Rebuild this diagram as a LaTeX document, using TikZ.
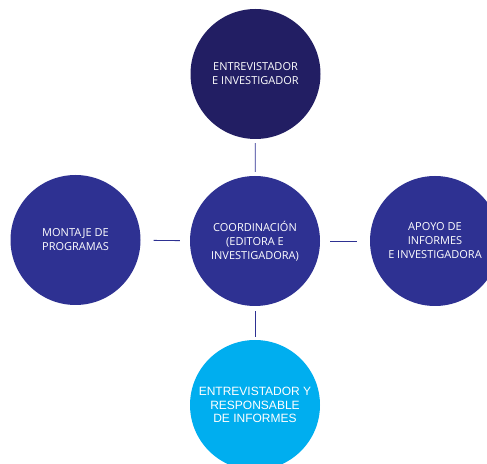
\documentclass[tikz,border=0pt]{standalone}
\usepackage{fontspec}
\setmainfont{Open Sans}
\newfontfamily\arialf{Liberation Sans}
\definecolor{navy}{HTML}{221E63}
\definecolor{blu}{HTML}{2E3192}
\definecolor{cya}{HTML}{00AEEF}
\begin{document}
\begin{tikzpicture}[x=1pt,y=1pt,
  bub/.style={circle,minimum size=130pt,inner sep=0pt,text=white,align=center,
    font=\fontsize{11}{14}\selectfont},
  conn/.style={draw=blu,line width=0.9pt}]
\clip (0,0) rectangle (487,463);
\fill[white] (0,0) rectangle (487,463);
\node[bub,fill=navy] (top) at (255.5,389) {ENTREVISTADOR\\E INVESTIGADOR};
\node[bub,fill=blu] (cen) at (255,222) {COORDINACIÓN\\(EDITORA E\\INVESTIGADORA)};
\node[bub,fill=blu] (lft) at (75.5,223) {MONTAJE DE\\PROGRAMAS};
\node[bub,fill=blu] (rgt) at (435,222) {APOYO DE\\INFORMES\\E INVESTIGADORA};
\node[bub,fill=cya,font=\arialf\fontsize{12}{13.3}\selectfont] (bot) at (255,58) {ENTREVISTADOR Y\\RESPONSABLE\\DE INFORMES};
\draw[conn,shorten <=4pt,shorten >=4pt] (top) -- (cen);
\draw[conn,shorten <=13pt,shorten >=10pt] (lft) -- (cen);
\draw[conn,shorten <=10pt,shorten >=13pt] (cen) -- (rgt);
\draw[conn,shorten <=5pt,shorten >=3pt] (cen) -- (bot);
\end{tikzpicture}
\end{document}
